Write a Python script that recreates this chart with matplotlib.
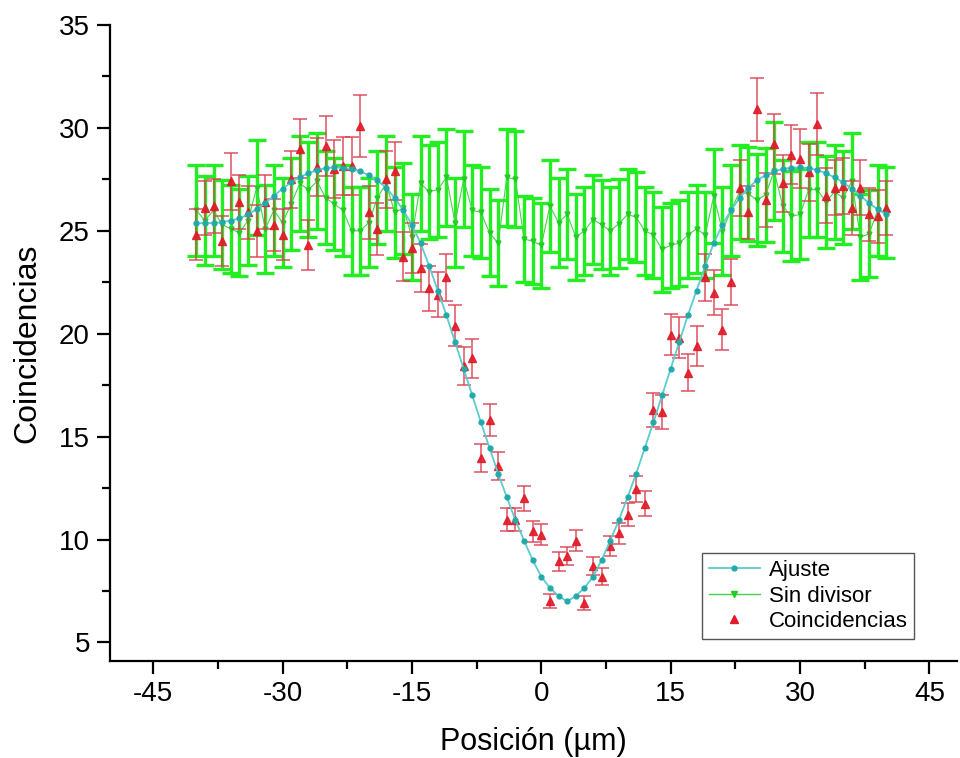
import numpy as np
import matplotlib
matplotlib.use('Agg')
import matplotlib.pyplot as plt
from matplotlib.ticker import MultipleLocator
from matplotlib.lines import Line2D

plt.rcParams['font.family'] = ['Liberation Sans', 'DejaVu Sans']
plt.rcParams['axes.unicode_minus'] = False

# posiciones (um)
posicion = np.arange(-40, 41)

# ajuste teorico (simetrico alrededor de x = 3)
ajuste = [25.38, 25.37, 25.38, 25.42, 25.5, 25.6, 25.8, 26.05, 26.35, 26.7,
          27.05, 27.35, 27.6, 27.8, 27.95, 28.05, 28.08, 28.07, 28.0, 27.9,
          27.7, 27.45, 27.1, 26.6, 26.0, 25.3, 24.4, 23.3, 22.1, 20.9,
          19.6, 18.3, 17.0, 15.7, 14.45, 13.2, 12.05, 10.95, 9.95, 9.0,
          8.2, 7.65, 7.25, 7.0, 7.25, 7.65, 8.2, 9.0, 9.95, 10.95,
          12.05, 13.2, 14.45, 15.7, 17.0, 18.3, 19.6, 20.9, 22.1, 23.3,
          24.4, 25.3, 26.0, 26.6, 27.1, 27.45, 27.7, 27.9, 28.0, 28.07,
          28.08, 28.05, 27.95, 27.8, 27.6, 27.35, 27.05, 26.7, 26.35, 26.05,
          25.8]

sin_divisor = [26.0, 25.5, 26.0, 25.3, 25.1, 24.9, 25.5, 27.1, 25.1, 26.0,
               25.4, 26.3, 27.3, 27.0, 27.4, 26.6, 26.3, 26.0, 25.0, 25.0,
               25.4, 26.6, 27.3, 25.9, 26.1, 24.7, 27.3, 26.9, 27.0, 27.6,
               25.4, 27.5, 26.0, 25.9, 24.9, 24.4, 27.6, 27.5, 24.6, 24.5,
               24.3, 26.2, 25.4, 25.8, 24.7, 25.0, 25.55, 25.3, 25.0, 25.35,
               25.8, 25.66, 25.0, 24.8, 24.1, 24.3, 24.4, 24.8, 25.1, 24.8,
               26.7, 25.0, 26.0, 26.9, 26.8, 26.5, 26.75, 27.9, 26.2, 25.7,
               25.8, 27.0, 27.0, 26.4, 26.9, 26.6, 27.4, 24.7, 24.85, 26.0,
               25.9]

coincidencias = [24.8, 26.1, 26.2, 24.5, 27.4, 26.4, 25.9, 25.0, 26.4, 25.3,
                 24.8, 27.5, 29.0, 24.3, 28.1, 29.1, 28.0, 28.15, 28.15, 30.1,
                 25.9, 25.1, 27.5, 27.9, 23.75, 24.16, 23.2, 22.2, 21.9, 22.75,
                 20.4, 18.45, 18.8, 13.96, 15.8, 13.56, 10.97, 10.97, 12.0, 10.4,
                 10.24, 7.0, 8.94, 9.2, 9.95, 6.9, 8.7, 8.2, 9.7, 10.3,
                 11.2, 12.45, 11.75, 16.3, 16.2, 19.95, 19.8, 18.1, 19.4, 22.75,
                 22.0, 20.2, 22.5, 27.07, 25.9, 30.9, 26.5, 29.2, 27.3, 28.7,
                 28.5, 27.85, 30.2, 26.7, 27.1, 27.2, 26.1, 27.1, 25.8, 25.7,
                 26.1]

sin_divisor = np.array(sin_divisor)
coincidencias = np.array(coincidencias)
err_sin = 0.085 * sin_divisor
err_coin = 0.05 * coincidencias

fig = plt.figure(figsize=(9.6, 7.58), dpi=100)
ax = fig.add_axes([0.1146, 0.128, 0.8823, 0.839])

ax.errorbar(posicion, sin_divisor, yerr=err_sin, fmt='v-', color='#44d444',
            ecolor='#22ee22', elinewidth=2.4, capsize=6.5, capthick=2.4,
            ms=3.5, lw=0.8, mfc='#22cc22', mec='#22cc22', zorder=2)
ax.errorbar(posicion, coincidencias, yerr=err_coin, fmt='^', color='#e01a28',
            ecolor='#d8404f', elinewidth=1.1, capsize=5, capthick=1.1,
            ms=6, alpha=0.9, zorder=3)
ax.plot(posicion, ajuste, '-', color='#5ccccc', lw=1.3, marker='o', ms=3.5,
        mfc='#22aaaa', mec='#22aaaa', zorder=4)

ax.set_xlim(-50, 48.2)
ax.set_ylim(4.1, 35)
ax.xaxis.set_major_locator(MultipleLocator(15))
ax.xaxis.set_minor_locator(MultipleLocator(7.5))
ax.yaxis.set_major_locator(MultipleLocator(5))
ax.yaxis.set_minor_locator(MultipleLocator(2.5))

for s in ['top', 'right']:
    ax.spines[s].set_visible(False)
for s in ['left', 'bottom']:
    ax.spines[s].set_linewidth(1.6)

ax.tick_params(which='major', direction='out', length=9.5, width=1.6,
               labelsize=20, pad=5)
ax.tick_params(which='minor', direction='out', length=5.5, width=1.6)

ax.set_xlabel('Posición (µm)', fontsize=22, labelpad=14)
ax.set_ylabel('Coincidencias', fontsize=23, labelpad=12)

# entradas de la leyenda sin barras de error
h_ajuste = Line2D([], [], color='#5ccccc', lw=1.3, marker='o', ms=3.5,
                  mfc='#22aaaa', mec='#22aaaa')
h_sin = Line2D([], [], color='#44d444', lw=1.0, marker='v', ms=4.5,
               mfc='#22cc22', mec='#22cc22')
h_coin = Line2D([], [], ls='none', marker='^', ms=6, color='#e01a28')

leg = ax.legend([h_ajuste, h_sin, h_coin], ['Ajuste', 'Sin divisor', 'Coincidencias'],
                loc='lower left', bbox_to_anchor=(0.699, 0.035), fontsize=16,
                frameon=True, fancybox=False, framealpha=1, edgecolor='#555555',
                handlelength=2.3, handletextpad=0.4, labelspacing=0.2,
                borderpad=0.3, borderaxespad=0)
leg.get_frame().set_linewidth(1.0)

fig.savefig('out.png', dpi=100)
